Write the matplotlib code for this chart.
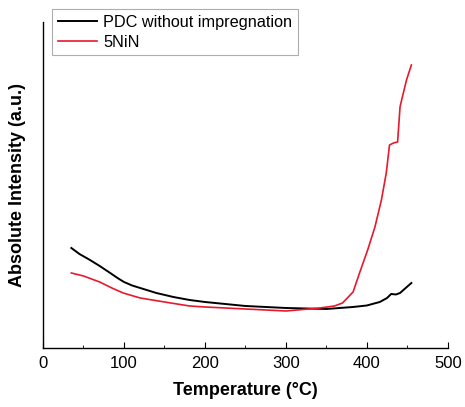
import matplotlib
matplotlib.use("Agg")
import matplotlib.pyplot as plt
from matplotlib.ticker import MultipleLocator

plt.rcParams['font.family'] = ['Liberation Sans', 'DejaVu Sans']

# PDC without impregnation (black)
temp_pdc = [35, 45, 58, 70, 83, 92, 100, 110, 120, 140, 161, 181, 200, 250, 300, 350,
            383, 400, 416, 425, 430, 436, 441, 448, 455]
int_pdc = [100, 94, 88, 82, 75, 70, 66, 62.5, 60, 55, 51, 48, 46, 42, 40, 39,
           41, 42.5, 46, 50, 54, 53.5, 55, 60, 65]

# 5NiN (red)
temp_ni = [35, 50, 70, 85, 99, 120, 150, 181, 200, 250, 300, 342, 360, 370,
           383, 391, 401, 410, 418, 424, 428, 433, 438, 441, 443, 449, 455]
int_ni = [75, 72, 66, 60, 55, 50, 46, 42, 41, 39, 37, 40, 42, 45,
          56, 75, 98, 121, 148, 175, 203, 205, 206, 241, 248, 268, 283]

fig = plt.figure(figsize=(4.65, 4.07), dpi=100)
ax = fig.add_axes([0.0925, 0.145, 0.8705, 0.801])

ax.plot(temp_pdc, int_pdc, color='black', lw=1.4, label='PDC without impregnation')
ax.plot(temp_ni, int_ni, color='#e8192c', lw=1.2, label='5NiN')

ax.set_xlim(0, 500)
ax.set_ylim(0, 326)
ax.xaxis.set_major_locator(MultipleLocator(100))
ax.xaxis.set_minor_locator(MultipleLocator(50))
ax.tick_params(axis='x', which='major', direction='in', length=4, labelsize=12, pad=6)
ax.tick_params(axis='x', which='minor', direction='in', length=2.5)
ax.set_yticks([])
for s in ['top', 'right']:
    ax.spines[s].set_visible(False)
for s in ['left', 'bottom']:
    ax.spines[s].set_linewidth(1.0)

ax.set_xlabel('Temperature (°C)', fontsize=13, fontweight='bold', labelpad=8)
ax.set_ylabel('Absolute Intensity (a.u.)', fontsize=13, fontweight='bold', labelpad=12)

leg = fig.legend(loc='upper left', bbox_to_anchor=(52 / 465, 1 - 9 / 407),
                 fontsize=11.7, frameon=True, fancybox=False, handlelength=2.4,
                 borderpad=0.35, labelspacing=0.3, handletextpad=0.4,
                 borderaxespad=0)
leg.get_frame().set_edgecolor('#999999')
leg.get_frame().set_linewidth(0.8)

fig.savefig('out.png', dpi=100)
